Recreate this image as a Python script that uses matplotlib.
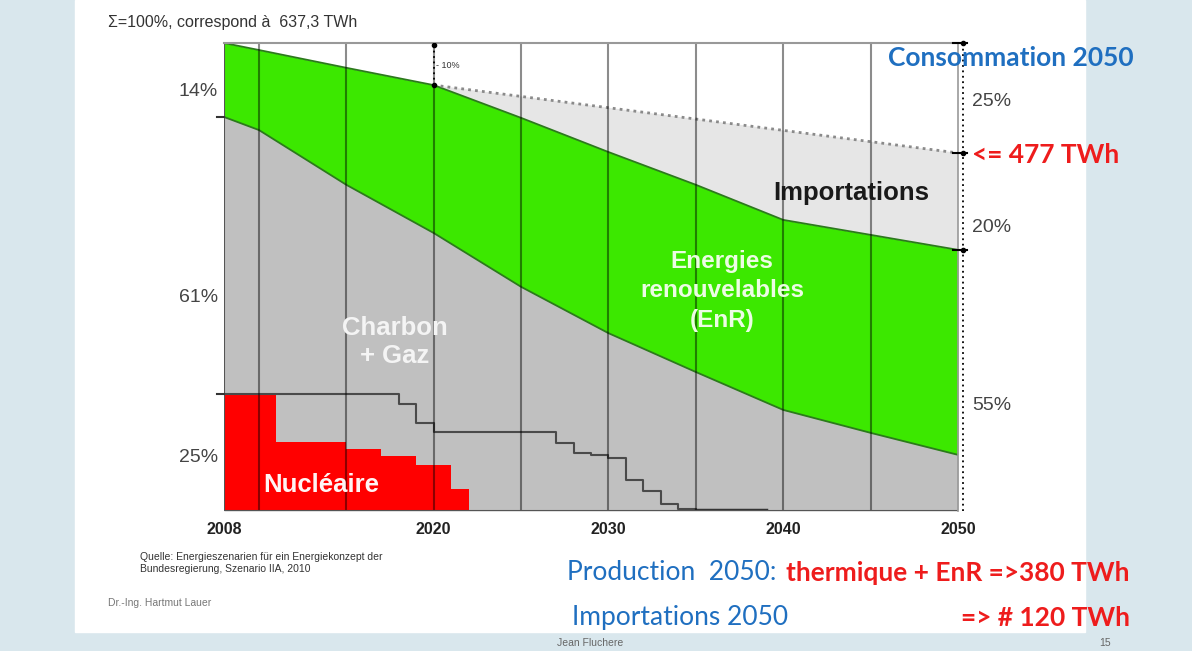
import numpy as np
import matplotlib.pyplot as plt
from matplotlib.patches import Rectangle

# production totale (haut du vert), % de 637,3 TWh
prod_years = [2008, 2010, 2015, 2020, 2025, 2030, 2035, 2040, 2045, 2050]
prod_total = [100, 98.5, 94.7, 91.0, 84.0, 76.7, 69.7, 62.2, 59.0, 55.8]
# haut du charbon + gaz (bas du vert)
fossil_top = [84.2, 81.4, 69.7, 59.4, 47.9, 38.0, 29.7, 21.6, 16.7, 12.0]

# consommation (ligne pointillee)
cons_years = [2008, 2020, 2050]
cons_vals = [100, 91.0, 76.5]

# nucleaire (sortie 2011)
nuc_years = [2008, 2011, 2015, 2017, 2019, 2021, 2022]
nuc_vals = [25, 14.8, 13.3, 11.8, 9.8, 4.8, 0]

# ancien plan de sortie (ligne en escalier)
old_years = [2008, 2018, 2019, 2020, 2027, 2028, 2029, 2030, 2031, 2032, 2033, 2034, 2035, 2039]
old_vals = [25, 22.9, 18.7, 16.9, 14.6, 12.5, 12.0, 11.3, 6.6, 4.3, 1.6, 0.4, 0, 0]

grid_years = [2010, 2015, 2020, 2025, 2030, 2035, 2040, 2045]
tick_years = [2008, 2020, 2030, 2040, 2050]

W, H = 1192, 651
fig = plt.figure(figsize=(W / 100, H / 100), dpi=100)
fig.patch.set_facecolor('#d9e7ed')

def px(x, y):
    return x / W, 1 - y / H

# fond blanc de la diapo
fig.patches.append(Rectangle((75 / W, 1 - 632 / H), (1085 - 75) / W, 632 / H,
                             transform=fig.transFigure, color='white', zorder=-10))

ax = fig.add_axes([224 / W, 1 - 511 / H, 734 / W, 468 / H])
ax.set_xlim(2008, 2050)
ax.set_ylim(0, 100)
ax.patch.set_alpha(0)
for s in ax.spines.values():
    s.set_visible(False)
ax.set_yticks([])
ax.set_xticks(tick_years)
ax.set_xticklabels([str(t) for t in tick_years], fontsize=11.5, fontweight='bold',
                   family='Liberation Sans', color='#222')
ax.tick_params(axis='x', length=0, pad=8)

green = '#3ce800'
# importations
ax.fill(cons_years[1:] + prod_years[::-1][:7], cons_vals[1:] + prod_total[::-1][:7],
        color='#e6e6e6', zorder=1, lw=0)
ax.fill_between(prod_years, 0, fossil_top, color='#c0c0c0', zorder=1, lw=0)
ax.fill_between(prod_years, fossil_top, prod_total, color=green, zorder=1, lw=0)
ax.plot(prod_years, prod_total, color='#2c7a1c', lw=1.3, zorder=3)
ax.plot(prod_years, fossil_top, color='#2c7a1c', lw=1.3, zorder=3)
ax.fill_between(nuc_years, 0, nuc_vals, step='post', color='#ff0000', zorder=2, lw=0)
ax.step(old_years, old_vals, where='post', color='#4a4a4a', lw=1.5, zorder=3)
ax.plot([2035, 2039], [0.3, 0.3], color='#333', lw=2.5, zorder=3)

ax.plot(cons_years[1:], cons_vals[1:], color='#8a8a8a', lw=2, ls=(0, (1, 1.5)), zorder=3)

for g in grid_years:
    ax.axvline(g, color='k', alpha=0.45, lw=1.5, zorder=4)
ax.axvline(2008, color='#555', lw=1.5, zorder=4)
ax.axhline(0, color='#555', lw=1.5, zorder=4)
ax.plot([2008, 2050], [100, 100], color='#999', lw=1.5, zorder=4, clip_on=False)
ax.plot([2050, 2050], [0, 100], color='#999', lw=1.2, zorder=4, clip_on=False)
ax.plot([2050.3, 2050.3], [0, 100], color='k', lw=1.3, ls=(0, (1, 2)), zorder=5, clip_on=False)
for v in [100, cons_vals[-1], prod_total[-1]]:
    ax.plot([2049.7, 2050.5], [v, v], color='k', lw=1.5, zorder=5, clip_on=False)
    ax.plot(2050.3, v, 'o', ms=3, color='k', zorder=5, clip_on=False)
# -10 %
ax.plot([2020, 2020], [cons_vals[1], 100], color='k', lw=1.3, ls=(0, (1, 2)), zorder=5)
ax.plot([2020, 2020], [cons_vals[1], 99.5], 'o', ms=3, color='k', zorder=5)
for v in [fossil_top[0], nuc_vals[0]]:
    ax.plot([2007.6, 2008], [v, v], color='#333', lw=1.5, clip_on=False, zorder=5)

sans = 'Liberation Sans'
fig.text(*px(108, 22), 'Σ=100%, correspond à  637,3 TWh', fontsize=11.5, family=sans,
         color='#333', va='center')
fig.text(*px(436, 66), '- 10%', fontsize=6.5, family=sans, color='#333', va='center')
for txt, y in [('14%', 92), ('61%', 297), ('25%', 458)]:
    fig.text(*px(218, y), txt, fontsize=14, family=sans, color='#444', ha='right', va='center')
for txt, y in [('25%', 101), ('20%', 228), ('55%', 405)]:
    fig.text(*px(972, y), txt, fontsize=14, family=sans, color='#444', va='center')

fig.text(*px(851, 193), 'Importations', fontsize=18.5, fontweight='bold', family=sans,
         color='#1a1a1a', ha='center', va='center')
fig.text(*px(722, 291), 'Energies\nrenouvelables\n(EnR)', fontsize=17.5, fontweight='bold',
         family=sans, color='#ecfce4', ha='center', va='center', linespacing=1.36)
fig.text(*px(395, 342), 'Charbon\n+ Gaz', fontsize=18.5, fontweight='bold', family=sans,
         color='#f4f4f4', ha='center', va='center', linespacing=1.22)
fig.text(*px(321, 485), 'Nucléaire', fontsize=18.5, fontweight='bold', family=sans,
         color='#fff4f4', ha='center', va='center')

fig.text(*px(140, 563), 'Quelle: Energieszenarien für ein Energiekonzept der\n'
         'Bundesregierung, Szenario IIA, 2010', fontsize=7.5, family=sans, color='#333',
         va='center', linespacing=1.2)
fig.text(*px(108, 603), 'Dr.-Ing. Hartmut Lauer', fontsize=7.5, family=sans, color='#777',
         va='center')

cal = 'Lato'
blue = '#1f6fc0'
red = '#ee1c1c'
big = 19
fig.text(*px(888, 58), 'Consommation 2050', fontsize=big, fontweight='bold', family=cal,
         color=blue, va='center')
fig.text(*px(972, 155), '<= 477 TWh', fontsize=big, fontweight='bold', family=cal,
         color=red, va='center')
fig.text(*px(567, 573), 'Production  2050:', fontsize=big, family=cal, color=blue, va='center')
fig.text(*px(1130, 573), 'thermique + EnR =>380 TWh', fontsize=big, fontweight='bold',
         family=cal, color=red, va='center', ha='right')
fig.text(*px(572, 618), 'Importations 2050', fontsize=big, family=cal, color=blue, va='center')
fig.text(*px(1130, 618), '=> # 120 TWh', fontsize=big, fontweight='bold', family=cal,
         color=red, va='center', ha='right')
fig.text(*px(590, 643), 'Jean Fluchere', fontsize=7.5, family=sans, color='#666',
         ha='center', va='center')
fig.text(*px(1105, 643), '15', fontsize=7.5, family=sans, color='#666', ha='center', va='center')

fig.savefig('out.png', dpi=100, facecolor=fig.get_facecolor())
